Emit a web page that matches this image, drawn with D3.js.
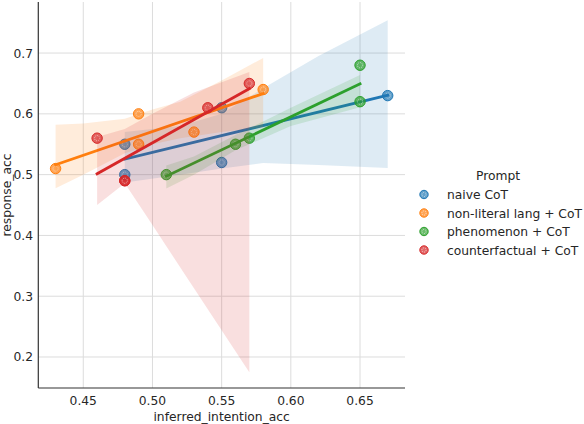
<!DOCTYPE html>
<html><head><meta charset="utf-8">
<script src="https://cdn.jsdelivr.net/npm/d3@7"></script>
<style>
body{margin:0;background:#fff;}
text{font-family:"DejaVu Sans",sans-serif;}
</style></head>
<body><svg id="chart" width="584" height="424"></svg>
<script>
// ---- data ----
const prompts = ["naive CoT", "non-literal lang + CoT", "phenomenon + CoT", "counterfactual + CoT"];
const colors = ["#1f77b4", "#ff7f0e", "#2ca02c", "#d62728"];

const naiveX = [0.48, 0.48, 0.55, 0.55, 0.67];
const naiveY = [0.55, 0.50, 0.52, 0.61, 0.63];
const nonlitX = [0.43, 0.49, 0.49, 0.53, 0.58];
const nonlitY = [0.51, 0.60, 0.55, 0.57, 0.64];
const phenX = [0.51, 0.56, 0.57, 0.65, 0.65];
const phenY = [0.50, 0.55, 0.56, 0.62, 0.68];
const cfX = [0.46, 0.48, 0.48, 0.54, 0.57];
const cfY = [0.56, 0.49, 0.49, 0.61, 0.65];

// confidence bands: x, lower, upper
const naiveBandX = [0.48, 0.52, 0.55, 0.58, 0.62, 0.67];
const naiveBandLo = [0.487, 0.50, 0.51, 0.519, 0.516, 0.511];
const naiveBandHi = [0.57, 0.58, 0.60, 0.642, 0.695, 0.754];
const nonlitBandX = [0.43, 0.45, 0.48, 0.50, 0.52, 0.55, 0.58];
const nonlitBandLo = [0.4775, 0.50, 0.535, 0.55, 0.56, 0.57, 0.578];
const nonlitBandHi = [0.582, 0.584, 0.592, 0.607, 0.62, 0.655, 0.692];
const phenBandX = [0.51, 0.53, 0.56, 0.60, 0.65];
const phenBandLo = [0.477, 0.50, 0.54, 0.58, 0.611];
const phenBandHi = [0.515, 0.53, 0.565, 0.61, 0.664];
const cfBandX = [0.46, 0.48, 0.50, 0.53, 0.57];
const cfBandLo = [0.45, 0.486, 0.417, 0.313, 0.175];
const cfBandHi = [0.562, 0.575, 0.60, 0.635, 0.669];

const xTicks = [0.45, 0.50, 0.55, 0.60, 0.65];
const yTicks = [0.2, 0.3, 0.4, 0.5, 0.6, 0.7];

const seriesX = [naiveX, nonlitX, phenX, cfX];
const seriesY = [naiveY, nonlitY, phenY, cfY];
const bandX = [naiveBandX, nonlitBandX, phenBandX, cfBandX];
const bandLo = [naiveBandLo, nonlitBandLo, phenBandLo, cfBandLo];
const bandHi = [naiveBandHi, nonlitBandHi, phenBandHi, cfBandHi];

// ---- layout ----
const svg = d3.select("#chart");
const L = 38.3, R = 405, T = 2, B = 388;
const FS = 12.3;
const x = d3.scaleLinear().domain([0.4175, 0.6825]).range([L, R]);
const y = d3.scaleLinear().domain([0.149, 0.784]).range([B, T]);

// grid
const grid = svg.append("g");
grid.selectAll(".gx").data(xTicks).join("line")
  .attr("x1", d => x(d)).attr("x2", d => x(d)).attr("y1", T).attr("y2", B)
  .attr("stroke", "#dcdcdc").attr("stroke-width", 1);
grid.selectAll(".gy").data(yTicks).join("line")
  .attr("y1", d => y(d)).attr("y2", d => y(d)).attr("x1", L).attr("x2", R)
  .attr("stroke", "#dcdcdc").attr("stroke-width", 1);

// series
function ols(xs, ys) {
  const mx = d3.mean(xs), my = d3.mean(ys);
  let sxy = 0, sxx = 0;
  xs.forEach((v, i) => { sxy += (v - mx) * (ys[i] - my); sxx += (v - mx) * (v - mx); });
  const b = sxy / sxx;
  return v => my + b * (v - mx);
}

function marker(g, cx, cy, col, r) {
  g.append("circle").attr("cx", cx).attr("cy", cy).attr("r", r)
    .attr("fill", col).attr("fill-opacity", 0.7)
    .attr("stroke", col).attr("stroke-width", 1);
  g.append("circle").attr("cx", cx).attr("cy", cy).attr("r", r * 0.5)
    .attr("fill", "none").attr("stroke", "#fff").attr("stroke-opacity", 0.7)
    .attr("stroke-width", 0.8).attr("stroke-dasharray", "1,1");
}

const plot = svg.append("g");
prompts.forEach((p, i) => {
  const col = colors[i];
  const xs = seriesX[i], ys = seriesY[i];
  const g = plot.append("g");
  xs.forEach((v, j) => marker(g, x(v), y(ys[j]), col, 5.2));
  const band = bandX[i].map((v, j) => ({ x: v, lo: bandLo[i][j], hi: bandHi[i][j] }));
  g.append("path").datum(band)
    .attr("d", d3.area().x(d => x(d.x)).y0(d => y(d.lo)).y1(d => y(d.hi)))
    .attr("fill", col).attr("fill-opacity", 0.15);
  const f = ols(xs, ys);
  const ext = d3.extent(xs);
  g.append("line")
    .attr("x1", x(ext[0])).attr("y1", y(f(ext[0])))
    .attr("x2", x(ext[1])).attr("y2", y(f(ext[1])))
    .attr("stroke", col).attr("stroke-width", 2.8).attr("stroke-linecap", "square");
});

// spines
svg.append("line").attr("x1", L).attr("x2", L).attr("y1", T).attr("y2", B)
  .attr("stroke", "#333").attr("stroke-width", 1.2);
svg.append("line").attr("x1", L).attr("x2", R).attr("y1", B).attr("y2", B)
  .attr("stroke", "#333").attr("stroke-width", 1.2);

// tick labels
svg.selectAll(".xt").data(xTicks).join("text")
  .attr("x", d => x(d)).attr("y", 405).attr("text-anchor", "middle")
  .attr("font-size", FS).attr("fill", "#262626").text(d => d3.format(".2f")(d));
svg.selectAll(".yt").data(yTicks).join("text")
  .attr("x", 33).attr("y", d => y(d) + 4.5).attr("text-anchor", "end")
  .attr("font-size", FS).attr("fill", "#262626").text(d => d3.format(".1f")(d));

// axis labels
svg.append("text").attr("x", (L + R) / 2).attr("y", 421).attr("text-anchor", "middle")
  .attr("font-size", FS).attr("fill", "#262626").text("inferred_intention_acc");
svg.append("text").attr("transform", `translate(11,${(T + B) / 2}) rotate(-90)`)
  .attr("text-anchor", "middle").attr("font-size", FS).attr("fill", "#262626").text("response_acc");

// legend
const lg = svg.append("g");
lg.append("text").attr("x", 498).attr("y", 180).attr("text-anchor", "middle")
  .attr("font-size", FS).attr("fill", "#262626").text("Prompt");
prompts.forEach((p, i) => {
  const cy = 194.5 + i * 18.5;
  marker(lg, 424, cy, colors[i], 4.2);
  lg.append("text").attr("x", 447).attr("y", cy + 4.5).attr("font-size", FS)
    .attr("fill", "#262626").text(p);
});
</script></body></html>
